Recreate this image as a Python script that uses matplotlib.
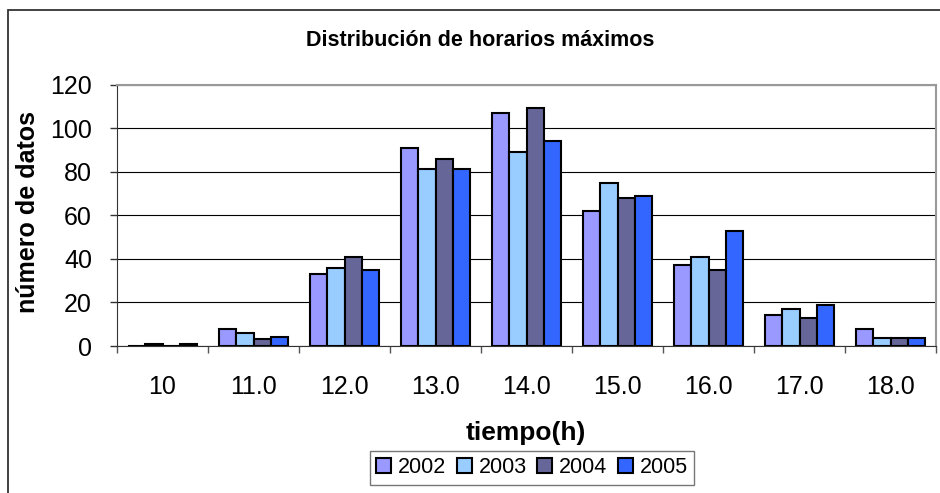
import matplotlib
matplotlib.use("Agg")
import matplotlib.pyplot as plt
import numpy as np
from matplotlib.patches import Rectangle

plt.rcParams['font.family'] = ['Liberation Sans', 'DejaVu Sans']

# data
horas = ["10", "11.0", "12.0", "13.0", "14.0", "15.0", "16.0", "17.0", "18.0"]
anios = ["2002", "2003", "2004", "2005"]
v2002 = [0, 8, 33, 91, 107, 62, 37, 14, 8]
v2003 = [1, 6, 36, 81, 89, 75, 41, 17, 3.5]
v2004 = [0, 3, 41, 86, 109, 68, 35, 13, 3.5]
v2005 = [1, 4, 35, 81, 94, 69, 53, 19, 3.5]
colores = ["#9999FF", "#99CCFF", "#666699", "#3366FF"]

fig = plt.figure(figsize=(9.4, 4.93), dpi=100)
ax = fig.add_axes([117/940, 1 - 346/493, (936-117)/940, (346-84.5)/493])

# outer chart border (only top and left are inside the picture)
fig.patches.append(Rectangle((8/940, -0.1), 1.2, (493-10)/493 + 0.1,
                             transform=fig.transFigure, fill=False,
                             edgecolor="#333333", linewidth=1.3))

x = np.arange(len(horas))
w = 0.1875
series = [v2002, v2003, v2004, v2005]
for i in range(4):
    ax.bar(x + (i - 1.5) * w, series[i], width=w, color=colores[i],
           edgecolor="black", linewidth=1.5, label=anios[i], zorder=3)

ax.set_xlim(-0.5, len(horas) - 0.5)
ax.set_ylim(0, 120)
ax.set_yticks(np.arange(0, 121, 20))
ax.yaxis.grid(True, color="black", linewidth=0.8, zorder=0)
ax.set_axisbelow(True)

# ticks at the category boundaries, labels in the middle
ax.set_xticks(np.arange(-0.5, len(horas), 1.0))
ax.set_xticklabels([])
ax.set_xticks(x, minor=True)
ax.set_xticklabels(horas, minor=True)
ax.tick_params(axis="x", which="major", length=5, width=1, color="#555555")
ax.tick_params(axis="x", which="minor", length=0, pad=21, labelsize=18)
ax.tick_params(axis="y", length=5, width=1, color="#333333", pad=13, labelsize=18)

for s in ["top", "right"]:
    ax.spines[s].set_color("#999999")
    ax.spines[s].set_linewidth(1.5)
ax.spines["left"].set_color("#333333")
ax.spines["bottom"].set_color("#333333")

fig.text(480/940, 1 - 41/493, "Distribución de horarios máximos",
         ha="center", va="center", fontsize=15.5, fontweight="bold")
fig.text(28/940, 1 - 212/493, "número de datos", rotation=90,
         ha="center", va="center", fontsize=18, fontweight="bold")
fig.text(526/940, 1 - 433/493, "tiempo(h)",
         ha="center", va="center", fontsize=19, fontweight="bold")

leg = fig.legend(loc="upper center", bbox_to_anchor=(532/940, 1 - 451/493),
                 ncol=4, fontsize=15.5, frameon=True, fancybox=False,
                 handlelength=0.7, handleheight=0.7, handletextpad=0.3,
                 columnspacing=0.5, borderpad=0.3, borderaxespad=0)
leg.get_frame().set_edgecolor("#555555")
leg.get_frame().set_linewidth(1.0)

fig.savefig("out.png", dpi=100)
